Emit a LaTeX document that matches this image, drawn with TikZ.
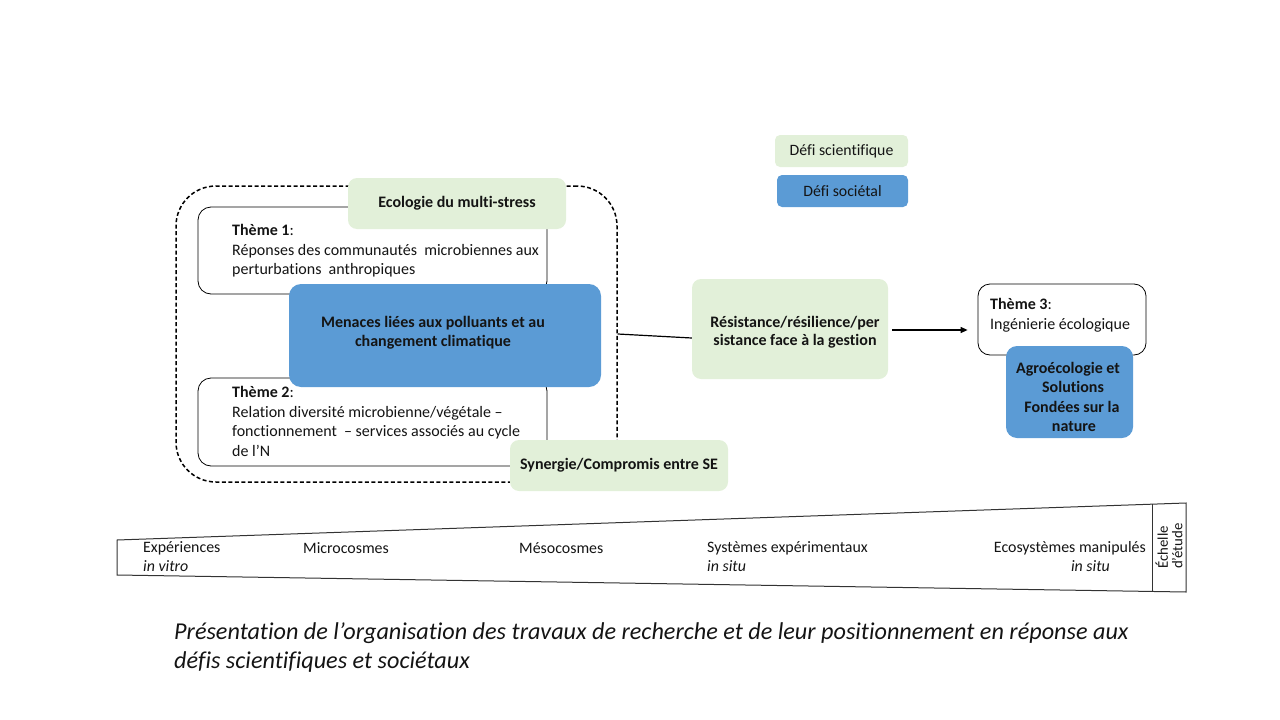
\documentclass[tikz,border=0pt]{standalone}
\usepackage{fontspec}
\setmainfont{Carlito}[Ligatures=NoCommon]
\usetikzlibrary{arrows.meta,calc}
\definecolor{grn}{RGB}{226,240,217}
\definecolor{blu}{RGB}{91,155,213}
\definecolor{txt}{RGB}{20,20,20}
\begin{document}
\begin{tikzpicture}[x=1pt,y=-1pt,
  gbox/.style={fill=grn, rounded corners=9pt, inner sep=0pt, align=center, text=txt,
    font=\fontsize{16}{18.5}\selectfont\bfseries},
  bbox/.style={fill=blu, rounded corners=12pt, inner sep=0pt, align=center, text=txt,
    font=\fontsize{16}{19.5}\selectfont\bfseries},
  boldtext/.style={align=center, inner sep=0pt, text=txt, font=\fontsize{16}{19.3}\selectfont\bfseries},
  themebox/.style={draw=black, fill=white, rounded corners=13pt, line width=0.8pt, inner sep=0pt},
  themetext/.style={anchor=north west, align=left, inner sep=0pt, text=txt,
    font=\fontsize{16}{19.7}\selectfont},
  legbox/.style={rounded corners=5pt, inner sep=0pt, text=txt, font=\fontsize{15.8}{18}\selectfont},
  scaletext/.style={anchor=west, inner sep=0pt, align=left, text=txt, font=\fontsize{15.9}{19}\selectfont},
  capt/.style={anchor=base west, inner sep=0pt, font=\fontsize{24.2}{28}\selectfont\itshape, text=txt},
  conn/.style={line width=1.2pt, draw=black}
]
\useasboundingbox (0,0) rectangle (1280,720);

% dashed grouping box
\node[draw=black, dash pattern=on 4pt off 2.5pt, line width=1.5pt, rounded corners=40pt,
  minimum width=441pt, minimum height=296pt, inner sep=0pt] (dashbox) at (396.5,334) {};

% themes 1 and 2
\node[themebox, minimum width=349pt, minimum height=87pt] (t1) at (372.5,250.5) {};
\node[themetext] (t1txt) at (232,224) {\textbf{Thème 1}:\\Réponses des communautés\ \ microbiennes aux\\perturbations\ \ anthropiques};
\node[themebox, minimum width=349pt, minimum height=88pt] (t2) at (372.5,422) {};

% green and blue boxes on the group
\node[gbox, minimum width=218pt, minimum height=51pt] (ecol) at (457,203.5) {Ecologie du multi-stress};
\node[bbox, minimum width=312pt, minimum height=103pt] (men) at (445,335.5) {};
\node[boldtext] (mentxt) at (433,333) {Menaces liées aux polluants et au\\changement climatique};
\node[themetext] (t2txt) at (232,386) {\textbf{Thème 2}:\\Relation diversité microbienne/végétale –\\fonctionnement\ \ – services associés au cycle\\de l’N};
\node[gbox, minimum width=218pt, minimum height=51pt] (syn) at (619,465.5) {Synergie/Compromis entre SE};

% right part
\node[gbox, minimum width=196pt, minimum height=100pt] (res) at (790,329) {};
\node[boldtext, font=\fontsize{16}{18.3}\selectfont\bfseries] (restxt) at (795,332) {Résistance/résilience/per\\sistance face à la gestion};
\node[themebox, rounded corners=12pt, minimum width=168pt, minimum height=71pt] (t3) at (1062,319.5) {};
\node[themetext] (t3txt) at (990,298) {\textbf{Thème 3}:\\Ingénierie écologique};
\node[bbox, rounded corners=11pt, minimum width=127pt, minimum height=92pt] (agro) at (1069.5,392) {};
\node[boldtext] (agrotxt) at (1068,397) {Agroécologie et\\\hspace*{10pt}Solutions\\\hspace*{8pt}Fondées sur la\\\hspace*{12pt}nature};

% connectors
\coordinate (a1) at ([xshift=4pt,yshift=-1pt]res.east);
\draw[conn] (dashbox.east) -- ([yshift=-9pt]res.west);
\draw[conn, -{Triangle[length=7pt,width=6pt]}] (a1) -- ([xshift=-10pt]t3.west |- a1);

% legend
\node[legbox, fill=grn, minimum width=133pt, minimum height=32pt] (lsci) at (841.5,151) {Défi scientifique};
\node[legbox, fill=blu, minimum width=131pt, minimum height=32pt] (lsoc) at (842.5,191) {Défi sociétal};

% scale
\coordinate (s1) at (117,540);
\coordinate (s2) at (1186,503);
\coordinate (s3) at (1186,592);
\coordinate (s4) at (117,575);
\coordinate (d1) at (1152,504.2);
\coordinate (d2) at (1152,591.5);
\draw[line width=1pt, draw=black!80] (s1) -- (s2) -- (s3) -- (s4) -- cycle;
\draw[line width=1pt, draw=black!80] (d1) -- (d2);
\node[scaletext] (sc1) at (143,557) {Expériences\\\textit{in vitro}};
\node[scaletext] (sc2) at (303,548) {Microcosmes};
\node[scaletext] (sc3) at (519,548) {Mésocosmes};
\node[scaletext] (sc4) at (707,557) {Systèmes expérimentaux\\\textit{in situ}};
\node[scaletext, align=right, anchor=east] (sc5) at (1146,557) {Ecosystèmes manipulés\\\textit{in situ}\hspace*{36pt}};
\node[rotate=90, inner sep=0pt, align=left, text=txt, font=\fontsize{14.8}{14.5}\selectfont] (ech) at (1169,546) {Échelle\\d’étude};

% caption
\node[capt] (cap1) at (174,639) {Présentation de l’organisation des travaux de recherche et de leur positionnement en réponse aux};
\node[capt] (cap2) at (174,668) {défis scientifiques et sociétaux};
\end{tikzpicture}
\end{document}
